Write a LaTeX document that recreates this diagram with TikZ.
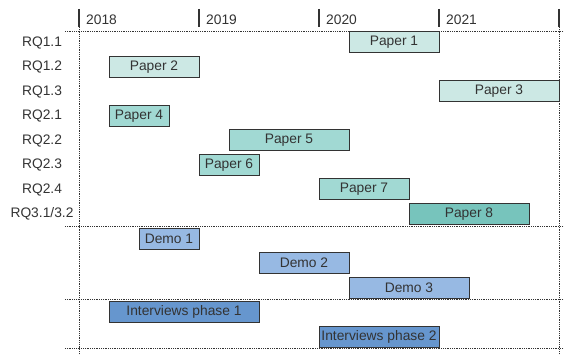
\documentclass[tikz,border=0pt]{standalone}
\usepackage{fontspec}
\setmainfont{Liberation Sans}
\usepackage{xcolor}
\usepackage{tikz}

\definecolor{paperlight}{HTML}{CCE8E4}
\definecolor{papermid}{HTML}{A1D9D3}
\definecolor{paperdark}{HTML}{77C4BC}
\definecolor{demoblue}{HTML}{97B9E3}
\definecolor{interblue}{HTML}{6696CE}
\definecolor{inkgray}{HTML}{333333}

\tikzset{
  txt/.style={inner sep=0pt, text=inkgray, font=\fontsize{13.8}{16}\selectfont},
  bar/.style={txt, draw=inkgray, line width=1pt, minimum height=21pt},
  grid/.style={inkgray, dash pattern=on .8pt off 1pt, line width=.9pt},
  yeartick/.style={inkgray, line width=2pt}
}

\begin{document}
\begin{tikzpicture}[x=1pt, y=-1pt]
             \useasboundingbox (0,0) rectangle (564,355);

             % years
             \draw[yeartick] (79,9) -- (79,27);
             \draw[yeartick] (199,9) -- (199,27);
             \draw[yeartick] (319,9) -- (319,27);
             \draw[yeartick] (439,9) -- (439,27);
             \draw[yeartick] (559,9) -- (559,27);
             \node[txt, anchor=west] (y2018) at (86,20) {2018};
             \node[txt, anchor=west] (y2019) at (206,20) {2019};
             \node[txt, anchor=west] (y2020) at (326,20) {2020};
             \node[txt, anchor=west] (y2021) at (446,20) {2021};

             % grid lines
             \draw[grid] (65,31) -- (564,31);
             \draw[grid] (65,226) -- (564,226);
             \draw[grid] (65,299) -- (564,299);
             \draw[grid] (65,348) -- (564,348);
             \draw[grid] (79,27) -- (79,355);
             \draw[grid] (559,27) -- (559,355);

             % research questions
             \node[txt] (rq11) at (42,42.5) {RQ1.1};
             \node[txt] (rq12) at (42,67) {RQ1.2};
             \node[txt] (rq13) at (42,91.5) {RQ1.3};
             \node[txt] (rq21) at (42,116) {RQ2.1};
             \node[txt] (rq22) at (42,140.5) {RQ2.2};
             \node[txt] (rq23) at (42,165) {RQ2.3};
             \node[txt] (rq24) at (42,189.5) {RQ2.4};
             \node[txt] (rq31) at (42,214) {RQ3.1/3.2};

             % papers
             \node[bar, fill=paperlight, minimum width=90pt] (paper1) at (394,42.5) {Paper 1};
             \node[bar, fill=paperlight, minimum width=90pt] (paper2) at (154,67) {Paper 2};
             \node[bar, fill=paperlight, minimum width=120pt] (paper3) at (499,91.5) {Paper 3};
             \node[bar, fill=papermid, minimum width=60pt] (paper4) at (139,116) {Paper 4};
             \node[bar, fill=papermid, minimum width=120pt] (paper5) at (289,140.5) {Paper 5};
             \node[bar, fill=papermid, minimum width=60pt] (paper6) at (229,165) {Paper 6};
             \node[bar, fill=papermid, minimum width=90pt] (paper7) at (364,189.5) {Paper 7};
             \node[bar, fill=paperdark, minimum width=120pt] (paper8) at (469,214) {Paper 8};

             % demos
             \node[bar, fill=demoblue, minimum width=60pt] (demo1) at (169,238.5) {Demo 1};
             \node[bar, fill=demoblue, minimum width=90pt] (demo2) at (304,263) {Demo 2};
             \node[bar, fill=demoblue, minimum width=120pt] (demo3) at (409,287.5) {Demo 3};

             % interviews
             \node[bar, fill=interblue, minimum width=150pt] (inter1) at (184,312) {Interviews phase 1};
             \node[bar, fill=interblue, minimum width=120pt] (inter2) at (379,336.5) {Interviews phase 2};
\end{tikzpicture}
\end{document}
